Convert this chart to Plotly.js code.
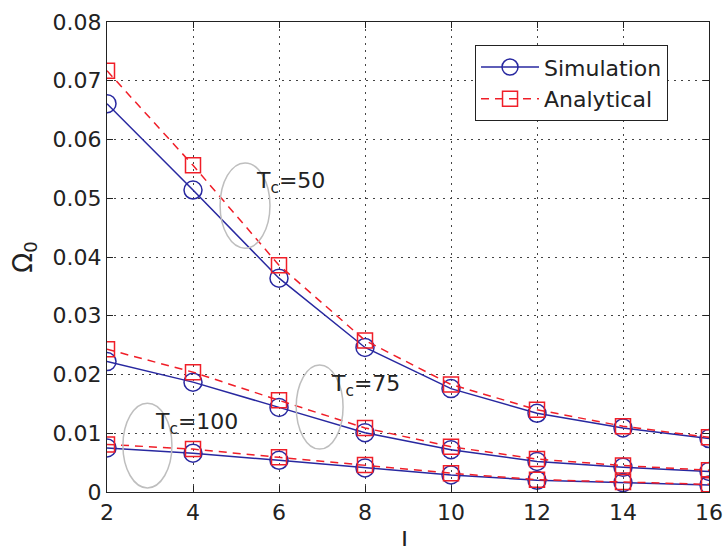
<!DOCTYPE html>
<html><head><meta charset="utf-8">
<script src="https://cdn.plot.ly/plotly-3.0.1.min.js"></script>
<style>html,body{margin:0;padding:0;background:#fff}#plot{width:724px;height:546px}</style>
</head><body><div id="plot"></div>
<script>
const L = [2, 4, 6, 8, 10, 12, 14, 16];
const sim50 = [0.0661, 0.0514, 0.0364, 0.0246, 0.0176, 0.0134, 0.0109, 0.0091];
const ana50 = [0.0717, 0.0556, 0.0386, 0.0258, 0.0183, 0.0140, 0.0112, 0.0093];
const sim75 = [0.0222, 0.0187, 0.0144, 0.0101, 0.0072, 0.0052, 0.0042, 0.0035];
const ana75 = [0.0243, 0.0204, 0.0156, 0.0109, 0.0077, 0.0056, 0.0045, 0.0037];
const sim100 = [0.0075, 0.0066, 0.0054, 0.0041, 0.0029, 0.0020, 0.0016, 0.0012];
const ana100 = [0.0081, 0.0073, 0.0059, 0.0046, 0.0032, 0.0021, 0.0017, 0.0013];
const seriesNames = ['Simulation', 'Analytical'];
const tcLabels = ['T<sub>c</sub>=50', 'T<sub>c</sub>=75', 'T<sub>c</sub>=100'];
const xTitle = 'L';
const yTitle = 'Ω<sub>0</sub>';

const blue = 'rgb(40,40,160)';
const red = 'rgb(240,30,40)';
const font = 'DejaVu Sans, sans-serif';

function simTrace(y, show) {
  return {x: L, y: y, type: 'scatter', mode: 'lines+markers', name: seriesNames[0], showlegend: show,
    line: {color: blue, width: 1.5},
    marker: {symbol: 'circle-open', size: 18, color: blue, line: {width: 1.5, color: blue}}};
}
function anaTrace(y, show) {
  return {x: L, y: y, type: 'scatter', mode: 'lines+markers', name: seriesNames[1], showlegend: show,
    line: {color: red, width: 1.5, dash: '8px,6px'},
    marker: {symbol: 'square-open', size: 15, color: red, line: {width: 1.5, color: red}}};
}
const data = [simTrace(sim50, true), anaTrace(ana50, true),
  simTrace(sim75, false), anaTrace(ana75, false),
  simTrace(sim100, false), anaTrace(ana100, false)];

const ellipse = (x0, x1, y0, y1) => ({type: 'circle', xref: 'x', yref: 'y', x0: x0, x1: x1, y0: y0, y1: y1,
  line: {color: 'rgb(190,190,190)', width: 1.5}, layer: 'above'});

const axisCommon = {showline: true, linecolor: '#222', linewidth: 1.2, mirror: 'ticks', ticks: 'inside', ticklen: 6,
  tickcolor: '#222', showgrid: true, gridcolor: '#444', griddash: '1.5px,5.5px', gridwidth: 1, zeroline: false,
  tickfont: {family: font, size: 22, color: '#222'}};

const layout = {
  width: 724, height: 546,
  margin: {l: 107, r: 15, t: 22, b: 54},
  paper_bgcolor: '#fff', plot_bgcolor: '#fff',
  font: {family: font, color: '#222'},
  xaxis: Object.assign({}, axisCommon, {range: [2, 16], tickvals: L, ticktext: L.map(String)}),
  yaxis: Object.assign({}, axisCommon, {range: [0, 0.08],
    tickvals: [0, 0.01, 0.02, 0.03, 0.04, 0.05, 0.06, 0.07, 0.08],
    ticktext: ['0', '0.01', '0.02', '0.03', '0.04', '0.05', '0.06', '0.07', '0.08'],
    title: {text: yTitle, font: {family: font, size: 26, color: '#222'}, standoff: 12}}),
  legend: {x: 0.611, y: 0.951, xanchor: 'left', yanchor: 'top', bgcolor: '#fff', bordercolor: '#222', borderwidth: 1.2,
    font: {family: font, size: 22, color: '#222'}, tracegroupgap: 0, itemwidth: 58},
  shapes: [ellipse(4.63, 5.79, 0.0415, 0.056), ellipse(6.40, 7.49, 0.0073, 0.0216), ellipse(2.37, 3.51, 0.0007, 0.0151)],
  annotations: [
    {x: 6.26, y: 0.0526, text: tcLabels[0], showarrow: false, font: {family: font, size: 22, color: '#222'}},
    {x: 8.0, y: 0.0182, text: tcLabels[1], showarrow: false, font: {family: font, size: 22, color: '#222'}},
    {x: 4.09, y: 0.0116, text: tcLabels[2], showarrow: false, font: {family: font, size: 22, color: '#222'}},
    {xref: 'paper', yref: 'paper', x: 0.5, y: 0, xanchor: 'center', yanchor: 'top', yshift: -33,
      text: xTitle, showarrow: false, font: {family: font, size: 24, color: '#222'}}
  ]
};
Plotly.newPlot('plot', data, layout, {displayModeBar: false, staticPlot: true});
</script></body></html>
